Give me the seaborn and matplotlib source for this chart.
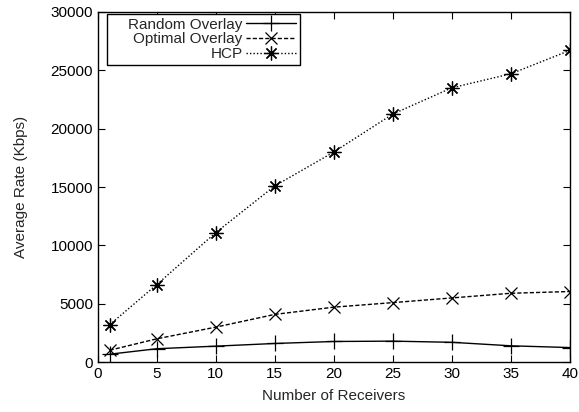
import numpy as np
import pandas as pd
import matplotlib
matplotlib.use("Agg")
import matplotlib.pyplot as plt
import seaborn as sns

receivers = [1, 5, 10, 15, 20, 25, 30, 35, 40]
random_overlay = [680, 1150, 1370, 1600, 1770, 1800, 1700, 1400, 1250]
optimal_overlay = [1020, 2000, 3000, 4090, 4710, 5100, 5500, 5900, 6050]
hcp = [3200, 6650, 11100, 15100, 18000, 21250, 23500, 24700, 26700]

series_names = ["Random Overlay", "Optimal Overlay", "HCP"]


def main():
    sns.set_style("ticks")
    plt.rcParams["font.family"] = ["Liberation Sans", "DejaVu Sans"]
    plt.rcParams["font.size"] = 11

    df = pd.DataFrame({
        "receivers": receivers * 3,
        "rate": random_overlay + optimal_overlay + hcp,
        "series": np.repeat(series_names, len(receivers)),
    })

    styles = {
        "Random Overlay": dict(linestyle="-", marker="+", markersize=12),
        "Optimal Overlay": dict(linestyle=(0, (3, 1.5)), marker="x", markersize=9),
        "HCP": dict(linestyle=(0, (1, 1.5)), marker=(8, 2, 0), markersize=10),
    }

    fig = plt.figure(figsize=(5.79, 4.12), dpi=100)
    ax = fig.add_axes([0.169, 0.121, 0.815, 0.850])

    for name in series_names:
        sub = df[df["series"] == name]
        # gnuplot-style key: pad the longest entry so the box reaches left
        label = "    " + name if name == "Random Overlay" else name
        sns.lineplot(
            data=sub, x="receivers", y="rate", ax=ax, color="black",
            linewidth=1.0, markeredgewidth=0.9, markeredgecolor="black",
            markerfacecolor="black", label=label,
            **styles[name],
        )

    ax.set_xlim(0, 40)
    ax.set_ylim(0, 30000)
    ax.set_xticks(range(0, 41, 5))
    ax.set_yticks(range(0, 30001, 5000))
    ax.set_xlabel("Number of Receivers", fontsize=11, labelpad=6)
    ax.set_ylabel("Average Rate (Kbps)", fontsize=11, labelpad=16)
    ax.tick_params(direction="in", length=5, width=0.8, top=True, right=True,
                   labelsize=11, colors="black")
    for sp in ax.spines.values():
        sp.set_color("black")
        sp.set_linewidth(1.0)

    leg = ax.legend(
        loc="upper left", bbox_to_anchor=(0.02, 0.995), markerfirst=False,
        frameon=True, fancybox=False, edgecolor="black", framealpha=1,
        handlelength=3.3, handletextpad=0.2, borderpad=0.25, labelspacing=0.05,
        borderaxespad=0, fontsize=11,
    )
    leg.get_frame().set_linewidth(1.0)

    plt.savefig("out.png", dpi=100)
    plt.close()


if __name__ == "__main__":
    main()
